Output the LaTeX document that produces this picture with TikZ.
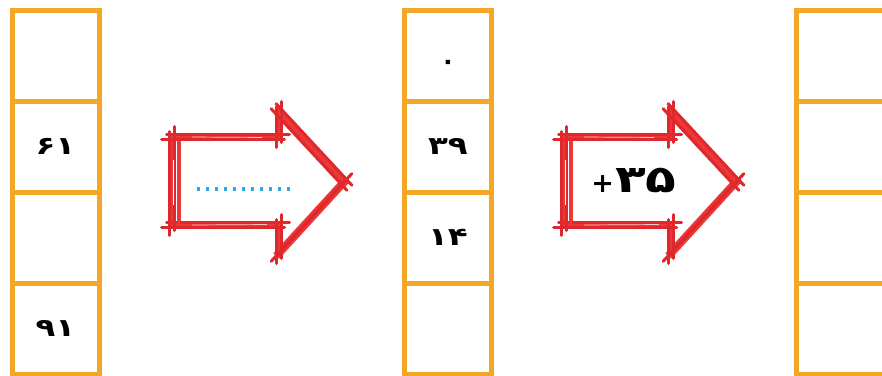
\documentclass[tikz,border=0pt]{standalone}
\usepackage{fontspec}
\usepackage{graphicx}
\newfontfamily\fafont[Script=Arabic]{DejaVu Sans}
\newfontfamily\plainsans{DejaVu Sans}
\usetikzlibrary{calc}
\definecolor{boxorange}{RGB}{242,168,38}
\definecolor{sketchred}{RGB}{236,56,56}
\definecolor{sketchdark}{RGB}{222,40,44}
\definecolor{dotblue}{RGB}{45,170,225}
\tikzset{
  cell/.style={draw=boxorange, line width=5pt, minimum width=87pt, minimum height=91pt,
    inner sep=0pt, font=\fafont\bfseries\fontsize{25}{28}\selectfont},
  wide cell/.style={cell, minimum width=96pt},
  stroke/.style={draw=sketchred, line width=8pt, line cap=butt,
    shorten <=-4pt, shorten >=-4pt},
  thinstroke/.style={draw=sketchdark, line width=3pt, line cap=round,
    shorten <=-8pt, shorten >=-8pt},
  dotline/.style={draw=dotblue, line width=3.4pt, dash pattern=on 3.4pt off 5.6pt},
  bigtext/.style={font=\fafont\bfseries\fontsize{36}{40}\selectfont, inner sep=0pt}
}
\newcommand{\arrowpass}[1]{%
  \draw[#1] (0,225) -- (0,137);
  \draw[#1] (0,137) -- (107,137);
  \draw[#1] (107,137) -- (107,112);
  \draw[#1] (107,112) -- (172,182);
  \draw[#1] (172,182) -- (107,253);
  \draw[#1] (107,253) -- (107,225);
  \draw[#1] (107,225) -- (0,225);
}
\newcommand{\sketcharrow}[1]{%
  \begin{scope}[shift={(#1,0)}]
    \arrowpass{stroke}
    \begin{scope}[shift={(2.5,-2.5)}]\arrowpass{thinstroke}\end{scope}
    \begin{scope}[shift={(-2.5,2.5)}]\arrowpass{thinstroke}\end{scope}
    \draw[thinstroke, draw=sketchred, line width=4pt] (7,150) -- (7,214);
    \draw[white, line width=0.8pt] (1,160) -- (1,205);
    \draw[white!70!sketchred, line width=0.7pt] (20,137) -- (90,137.5);
    \draw[white!70!sketchred, line width=0.7pt] (20,225) -- (95,224.5);
  \end{scope}}
\begin{document}
\begin{tikzpicture}[x=1pt, y=-1pt]
  \useasboundingbox (0,0) rectangle (882,375);
  \clip (0,0) rectangle (882,375);
  \fill[white] (0,0) rectangle (882,375);
  % left column
  \node[cell] (L1) at (55.5,55.5) {};
  \node[cell] (L2) at (55.5,146.5) {\scalebox{1.3}[1]{۶۱}};
  \node[cell] (L3) at (55.5,237.5) {};
  \node[cell] (L4) at (55.5,328.5) {\scalebox{1.3}[1]{۹۱}};
  % middle column
  \node[cell] (M1) at (448,55.5) {\raisebox{-14pt}[0pt][0pt]{۰}};
  \node[cell] (M2) at (448,146.5) {\scalebox{1.3}[1]{۳۹}};
  \node[cell] (M3) at (448,237.5) {\scalebox{1.3}[1]{۱۴}};
  \node[cell] (M4) at (448,328.5) {};
  % right column
  \node[wide cell] (R1) at (844,55.5) {};
  \node[wide cell] (R2) at (844,146.5) {};
  \node[wide cell] (R3) at (844,237.5) {};
  \node[wide cell] (R4) at (844,328.5) {};
  % arrows
  \sketcharrow{172}
  \sketcharrow{564}
  \coordinate (d1) at (197,189);
  \coordinate (d2) at (290,189);
  \draw[dotline] (d1) -- (d2);
  \node[bigtext] (plus) at (634,180)
    {\hbox{\plainsans\fontsize{27}{30}\selectfont +}\kern1pt\scalebox{1.4}[1.05]{۳۵}};
\end{tikzpicture}
\end{document}
